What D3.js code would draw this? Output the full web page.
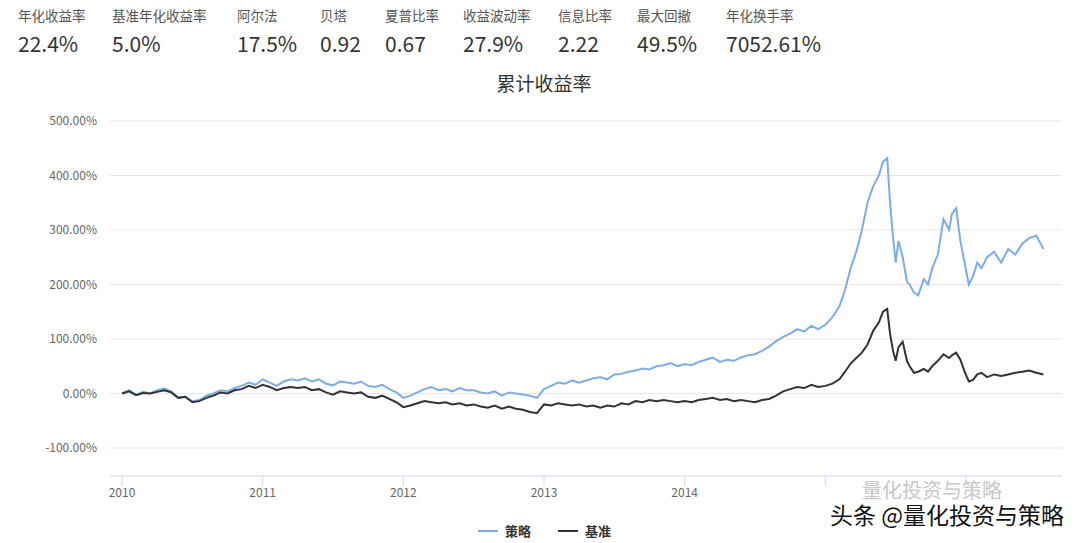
<!DOCTYPE html><html><head><meta charset="utf-8"><script src="https://cdn.jsdelivr.net/npm/d3@7"></script>
<style>body{margin:0;background:#fff;font-family:"Noto Sans CJK SC","Noto Sans",sans-serif}</style></head><body><svg id="c" width="1080" height="543"></svg>
<script>
const statLabels=["年化收益率","基准年化收益率","阿尔法","贝塔","夏普比率","收益波动率","信息比率","最大回撤","年化换手率"];
const statValues=["22.4%","5.0%","17.5%","0.92","0.67","27.9%","2.22","49.5%","7052.61%"];
const yTicks=[-100,0,100,200,300,400,500];
const xTicks=[2010,2011,2012,2013,2014,2015,2016];
const xLabels=["2010","2011","2012","2013","2014","",""];
const stratT=[2010,2010.05,2010.1,2010.15,2010.2,2010.25,2010.3,2010.35,2010.4,2010.45,2010.5,2010.55,2010.6,2010.65,2010.7,2010.75,2010.8,2010.85,2010.9,2010.95,2011,2011.05,2011.1,2011.15,2011.2,2011.25,2011.3,2011.35,2011.4,2011.45,2011.5,2011.55,2011.6,2011.65,2011.7,2011.75,2011.8,2011.85,2011.9,2011.95,2012,2012.05,2012.1,2012.15,2012.2,2012.25,2012.3,2012.35,2012.4,2012.45,2012.5,2012.55,2012.6,2012.65,2012.7,2012.75,2012.8,2012.85,2012.9,2012.95,2013,2013.05,2013.1,2013.15,2013.2,2013.25,2013.3,2013.35,2013.4,2013.45,2013.5,2013.55,2013.6,2013.65,2013.7,2013.75,2013.8,2013.85,2013.9,2013.95,2014,2014.05,2014.1,2014.15,2014.2,2014.25,2014.3,2014.35,2014.4,2014.45,2014.5,2014.55,2014.6,2014.65,2014.7,2014.75,2014.8,2014.85,2014.9,2014.95,2015,2015.05,2015.1,2015.14,2015.18,2015.22,2015.26,2015.3,2015.34,2015.38,2015.41,2015.44,2015.46,2015.48,2015.5,2015.52,2015.55,2015.58,2015.6,2015.63,2015.66,2015.7,2015.73,2015.76,2015.8,2015.84,2015.88,2015.9,2015.93,2015.96,2015.99,2016.02,2016.05,2016.08,2016.11,2016.15,2016.2,2016.25,2016.3,2016.35,2016.4,2016.45,2016.5,2016.55,2016.58,2016.6];
const strat=[0,6,-2,3,0,6,9,4,-8,-6,-14,-12,-4,0,6,4,10,14,20,16,26,20,14,22,26,24,28,22,26,18,15,22,20,18,22,14,12,16,8,2,-8,-4,2,8,12,6,8,4,10,6,6,2,0,4,-4,2,0,-2,-4,-8,8,14,20,18,24,20,24,28,30,26,35,36,40,42,46,44,50,52,56,50,54,52,58,62,66,58,62,60,66,70,72,78,86,96,104,110,118,114,124,118,126,140,160,190,230,260,300,350,380,400,425,432,350,290,240,280,250,205,200,185,180,210,200,230,255,320,300,330,340,280,240,200,215,240,230,250,260,240,265,255,275,285,290,265];
const benchT=stratT;
const bench=[0,4,-3,1,0,3,6,2,-8,-6,-16,-14,-8,-4,2,0,6,8,14,10,16,12,6,10,12,10,12,6,8,2,-2,4,2,0,2,-6,-8,-4,-10,-16,-25,-22,-18,-14,-16,-18,-16,-20,-18,-22,-20,-24,-26,-22,-28,-24,-28,-30,-34,-36,-20,-22,-18,-20,-22,-20,-24,-22,-26,-22,-24,-18,-20,-14,-16,-12,-14,-12,-14,-16,-14,-16,-12,-10,-8,-12,-10,-14,-12,-14,-16,-12,-10,-4,4,8,12,10,16,12,14,18,26,40,55,65,75,90,115,130,150,155,110,80,60,85,95,60,50,38,40,45,40,50,60,72,65,70,75,62,40,22,25,35,38,30,35,32,35,38,40,42,38,35];
const svg=d3.select("#c");
const x=d3.scaleLinear().domain([2010,2016]).range([122,966]);
const y=d3.scaleLinear().domain([-100,500]).range([448,121]);
statLabels.forEach((l,i)=>{const xs=[18,112,237,320,385,463,558,637,726][i];
 svg.append("text").attr("x",xs).attr("y",21).attr("font-size",13.5).attr("fill","#555").text(l);
 svg.append("text").attr("x",xs).attr("y",52).attr("font-size",21).attr("fill","#333").text(statValues[i]);});
svg.append("text").attr("x",544).attr("y",91).attr("text-anchor","middle").attr("font-size",19).attr("fill","#333").text("累计收益率");
yTicks.forEach(t=>{svg.append("line").attr("x1",110).attr("x2",1062).attr("y1",y(t)).attr("y2",y(t)).attr("stroke","#e6e6e6");
 svg.append("text").attr("x",97).attr("y",y(t)+4).attr("text-anchor","end").attr("font-size",12).attr("fill","#666").text(t.toFixed(2)+"%");});
svg.append("line").attr("x1",110).attr("x2",1062).attr("y1",476).attr("y2",476).attr("stroke","#ccd6eb");
xTicks.forEach((t,i)=>{svg.append("line").attr("x1",x(t)).attr("x2",x(t)).attr("y1",476).attr("y2",486).attr("stroke","#ccd6eb");
 if(xLabels[i]) svg.append("text").attr("x",x(t)).attr("y",497).attr("text-anchor","middle").attr("font-size",12).attr("fill","#666").text(xLabels[i]);});
const line=d3.line().x(d=>x(d[0])).y(d=>y(d[1]));
svg.append("path").attr("d",line(stratT.map((t,i)=>[t,strat[i]]))).attr("fill","none").attr("stroke","#7cade8").attr("stroke-width",2);
svg.append("path").attr("d",line(benchT.map((t,i)=>[t,bench[i]]))).attr("fill","none").attr("stroke","#333").attr("stroke-width",2);
svg.append("line").attr("x1",478).attr("x2",498).attr("y1",531).attr("y2",531).attr("stroke","#7cade8").attr("stroke-width",2);
svg.append("text").attr("x",505).attr("y",536).attr("font-size",13).attr("font-weight","bold").attr("fill","#333").text("策略");
svg.append("line").attr("x1",558).attr("x2",578).attr("y1",531).attr("y2",531).attr("stroke","#333").attr("stroke-width",2);
svg.append("text").attr("x",585).attr("y",536).attr("font-size",13).attr("font-weight","bold").attr("fill","#333").text("基准");
svg.append("text").attr("x",862).attr("y",498).attr("font-size",20).attr("fill","#c8c8c8").text("量化投资与策略");
svg.append("text").attr("x",1064).attr("y",524).attr("text-anchor","end").attr("font-size",23).attr("fill","#111").attr("stroke","#fff").attr("stroke-width",3).attr("paint-order","stroke").text("头条 @量化投资与策略");
</script></body></html>
